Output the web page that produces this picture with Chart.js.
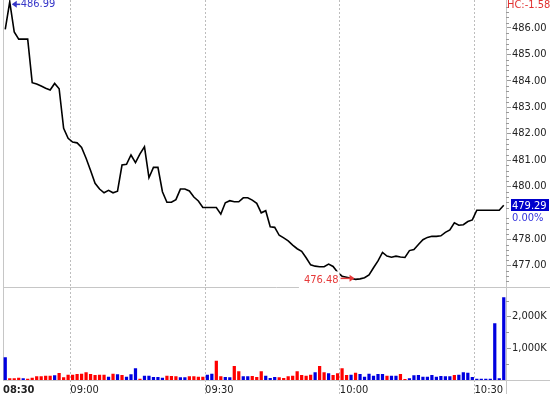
<!DOCTYPE html>
<html>
<head>
<meta charset="utf-8">
<script src="https://cdn.jsdelivr.net/npm/chart.js@4.4.0/dist/chart.umd.min.js"></script>
<style>
html, body { margin: 0; padding: 0; background: #fff; }
</style>
</head>
<body>
<canvas id="priceChart" width="550" height="394"></canvas>
<script>
// one-minute bars, first bar at 08:45
var startTime = "08:45";

var prices = [
  485.95, 486.99, 485.85, 485.58, 485.58, 485.58, 483.93, 483.88, 483.80, 483.72,
  483.65, 483.90, 483.70, 482.20, 481.82, 481.68, 481.65, 481.48, 481.07, 480.60,
  480.12, 479.90, 479.76, 479.85, 479.76, 479.82, 480.81, 480.84, 481.19, 480.90,
  481.23, 481.50, 480.33, 480.72, 480.72, 479.80, 479.40, 479.40, 479.50, 479.90,
  479.90, 479.83, 479.60, 479.45, 479.20, 479.20, 479.20, 479.20, 478.95, 479.38,
  479.46, 479.42, 479.42, 479.57, 479.57, 479.48, 479.36, 479.00, 479.08, 478.47,
  478.45, 478.15, 478.05, 477.94, 477.78, 477.64, 477.54, 477.30, 477.03, 476.98,
  476.96, 476.96, 477.06, 476.97, 476.75, 476.60, 476.56, 476.52, 476.48, 476.50,
  476.54, 476.65, 476.92, 477.18, 477.50, 477.36, 477.32, 477.36, 477.33, 477.31,
  477.57, 477.61, 477.80, 477.98, 478.07, 478.11, 478.11, 478.13, 478.26, 478.35,
  478.62, 478.53, 478.55, 478.67, 478.73, 479.10, 479.10, 479.10, 479.10, 479.10,
  479.10, 479.29
];

// volume in thousands
var volumes = [
  715, 53, 53, 74, 53, 42, 74, 116, 116, 137,
  137, 147, 221, 84, 168, 168, 189, 200, 242, 189,
  158, 168, 168, 105, 200, 179, 158, 105, 179, 368,
  42, 137, 137, 95, 95, 74, 137, 126, 116, 84,
  84, 116, 116, 105, 105, 168, 200, 610, 116, 95,
  84, 442, 273, 116, 116, 126, 95, 273, 137, 63,
  95, 84, 63, 116, 137, 273, 158, 137, 168, 242,
  442, 242, 210, 158, 210, 368, 158, 168, 231, 189,
  105, 200, 137, 189, 189, 137, 137, 137, 189, 32,
  53, 147, 158, 105, 105, 158, 105, 126, 116, 116,
  158, 168, 242, 231, 95, 42, 42, 42, 42, 1788,
  53, 2608
];

// 1 = up tick (blue), 0 = down tick (red)
var volUp = [
  1,0,0,0,1,0,0,0,0,0,
  0,1,0,0,0,0,0,0,0,0,
  0,0,0,1,0,1,0,1,1,1,
  0,1,1,1,1,1,0,0,0,1,
  1,0,0,0,0,1,1,0,0,1,
  1,0,0,1,1,0,0,0,1,1,
  1,0,0,0,0,0,0,0,0,1,
  0,0,1,0,0,0,0,1,0,1,
  1,1,1,1,1,0,1,1,0,0,
  1,1,1,1,1,1,1,1,1,1,
  0,1,1,1,1,1,1,1,1,1,
  1,1
];

// 479.00 is hidden behind the last-price tag in the original
var priceTicks = [477, 478, 480, 481, 482, 483, 484, 485, 486];
var volTicks = [1000, 2000];
var xTickAt = ["08:45", "09:00", "09:30", "10:00", "10:30"];
var xTickLabels = ["08:30", "09:00", "09:30", "10:00", "10:30"];
var hcLabel = "HC:-1.58";
var changeLabel = "0.00%";

function toMin(t) {
  var p = t.split(":");
  return parseInt(p[0], 10) * 60 + parseInt(p[1], 10);
}

var t0 = toMin(startTime);
var barX = prices.map(function (p, i) { return t0 + i + 0.5; });

var fontFam = "'DejaVu Sans Condensed', 'DejaVu Sans', sans-serif";
Chart.defaults.font.family = fontFam;
Chart.defaults.font.size = 11;
Chart.defaults.color = "#222";

function fmtK(v) {
  return String(v).replace(/\B(?=(\d{3})+(?!\d))/g, ",") + "K";
}

function noPad(s) {
  s.paddingTop = 0;
  s.paddingBottom = 0;
  s.paddingLeft = 0;
  s.paddingRight = 0;
}

var framePlugin = {
  id: "frame",
  beforeDatasetsDraw: function (chart) {
    var c = chart.ctx, a = chart.chartArea, yv = chart.scales.yv;
    var sep = Math.round(yv.top) + 0.5;
    c.save();
    c.strokeStyle = "#c6c6c6";
    c.lineWidth = 1;
    c.beginPath();
    c.moveTo(a.left + 0.5, a.top); c.lineTo(a.left + 0.5, a.bottom);
    c.moveTo(a.left, sep); c.lineTo(chart.width, sep);
    c.moveTo(a.left, a.bottom + 0.5); c.lineTo(chart.width, a.bottom + 0.5);
    c.moveTo(a.right + 0.5, 0); c.lineTo(a.right + 0.5, chart.height);
    c.stroke();

    // minor ticks on the right axes
    var ys = chart.scales.y;
    c.strokeStyle = "#999";
    c.beginPath();
    for (var v = 476.4; v < ys.max; v += 0.2) {
      if (Math.abs(v - Math.round(v)) < 0.01) continue;
      var py = Math.round(ys.getPixelForValue(v)) + 0.5;
      c.moveTo(a.right, py); c.lineTo(a.right + 3, py);
    }
    for (var k = 500; k < yv.max; k += 1000) {
      var pk = Math.round(yv.getPixelForValue(k)) + 0.5;
      c.moveTo(a.right, pk); c.lineTo(a.right + 3, pk);
    }
    c.stroke();
    c.restore();
  },
  afterDraw: function (chart) {
    var c = chart.ctx, a = chart.chartArea;
    var xs = chart.scales.x, ys = chart.scales.y;
    var iMax = prices.indexOf(Math.max.apply(null, prices));
    var iMin = prices.indexOf(Math.min.apply(null, prices));
    var last = prices.length - 1;
    c.save();
    c.font = "11px " + fontFam;
    c.textBaseline = "middle";

    // high marker
    var tx = xs.getPixelForValue(barX[iMax]) + 2;
    var ty = ys.getPixelForValue(prices[iMax]) + 2.5;
    c.fillStyle = "#3636c8";
    c.strokeStyle = "#3636c8";
    c.lineWidth = 1.5;
    c.beginPath();
    c.moveTo(tx, ty); c.lineTo(tx + 5, ty - 3.5); c.lineTo(tx + 5, ty + 3.5); c.closePath();
    c.fill();
    c.beginPath(); c.moveTo(tx + 4, ty); c.lineTo(tx + 8.5, ty); c.stroke();
    c.textAlign = "left";
    c.fillText(prices[iMax].toFixed(2), tx + 9, ty);

    // low marker
    var mx = xs.getPixelForValue(barX[iMin]) - 1;
    var my = ys.getPixelForValue(prices[iMin]) - 1;
    var lowTxt = prices[iMin].toFixed(2);
    var tw = c.measureText(lowTxt).width;
    c.fillStyle = "#fff";
    c.fillRect(mx - 17 - tw - 4, my - 7, tw + 6, 17);
    c.fillStyle = "#e63a3a";
    c.strokeStyle = "#e63a3a";
    c.textAlign = "right";
    c.fillText(lowTxt, mx - 16, my + 2);
    c.beginPath();
    c.moveTo(mx, my); c.lineTo(mx - 5, my - 3.5); c.lineTo(mx - 5, my + 3.5); c.closePath();
    c.fill();
    c.beginPath(); c.moveTo(mx - 14, my); c.lineTo(mx - 4, my); c.stroke();

    // header text
    c.textAlign = "left";
    c.fillStyle = "#e03030";
    c.fillText(hcLabel, a.right + 1, 5);

    // last price box
    var ly = ys.getPixelForValue(prices[last]);
    c.fillStyle = "#0000cc";
    c.fillRect(a.right + 5, Math.round(ly) - 6, 38, 12);
    c.fillStyle = "#fff";
    c.fillText(prices[last].toFixed(2), a.right + 6, ly + 0.5);
    c.fillStyle = "#3333dd";
    c.fillText(changeLabel, a.right + 6, ly + 12.5);
    c.restore();
  }
};

var ctx = document.getElementById("priceChart").getContext("2d");
var chart = new Chart(ctx, {
  type: "line",
  data: {
    datasets: [{
      type: "line",
      data: prices.map(function (p, i) { return { x: barX[i], y: p }; }),
      borderColor: "#000",
      borderWidth: 1.6,
      pointRadius: 0,
      tension: 0,
      yAxisID: "y",
      order: 0
    }, {
      type: "bar",
      data: volumes.map(function (v, i) { return { x: barX[i], y: v }; }),
      backgroundColor: volUp.map(function (u) { return u ? "#0000e0" : "#ff0000"; }),
      barPercentage: 0.72,
      categoryPercentage: 1,
      yAxisID: "yv",
      order: 1
    }]
  },
  options: {
    responsive: false,
    animation: false,
    layout: { padding: { left: 3, right: 0, top: 0, bottom: 0 } },
    plugins: { legend: { display: false }, tooltip: { enabled: false } },
    scales: {
      x: {
        type: "linear",
        min: t0,
        max: t0 + prices.length,
        offset: false,
        afterBuildTicks: function (s) {
          s.ticks = xTickAt.map(function (t) { return { value: toMin(t) }; });
        },
        afterFit: function (s) { s.height = 14; noPad(s); },
        grid: {
          offset: false,
          color: "#bdbdbd",
          tickColor: "#bdbdbd",
          lineWidth: function (c) { return c.index === 0 ? 0 : 1; },
          tickWidth: function (c) { return c.index === 0 ? 0 : 1; },
          tickLength: 14,
          tickBorderDash: [2, 2]
        },
        border: { display: false, dash: [2, 2] },
        ticks: {
          align: "start",
          padding: -10,
          maxRotation: 0,
          autoSkip: false,
          color: "#222",
          callback: function (v, i) { return xTickLabels[i]; },
          font: function (c) { return { size: 11, weight: c.index === 0 ? "bold" : "normal" }; }
        }
      },
      y: {
        position: "right",
        stack: "v",
        stackWeight: 286.5,
        min: 476.21,
        max: 487.06,
        afterBuildTicks: function (s) {
          s.ticks = priceTicks.map(function (v) { return { value: v }; });
        },
        afterFit: function (s) { s.width = 44; noPad(s); },
        grid: { drawOnChartArea: false, tickLength: 5, tickColor: "#999" },
        border: { display: false },
        ticks: {
          padding: 1,
          color: "#222",
          callback: function (v) { return v.toFixed(2); }
        }
      },
      yv: {
        position: "right",
        stack: "v",
        stackWeight: 93.5,
        min: 0,
        max: 2950,
        afterBuildTicks: function (s) {
          s.ticks = volTicks.map(function (v) { return { value: v }; });
        },
        afterFit: function (s) { s.width = 44; noPad(s); },
        grid: { drawOnChartArea: false, tickLength: 5, tickColor: "#999" },
        border: { display: false },
        ticks: {
          padding: 1,
          color: "#222",
          callback: function (v) { return fmtK(v); }
        }
      }
    }
  },
  plugins: [framePlugin]
});
</script>
</body>
</html>
